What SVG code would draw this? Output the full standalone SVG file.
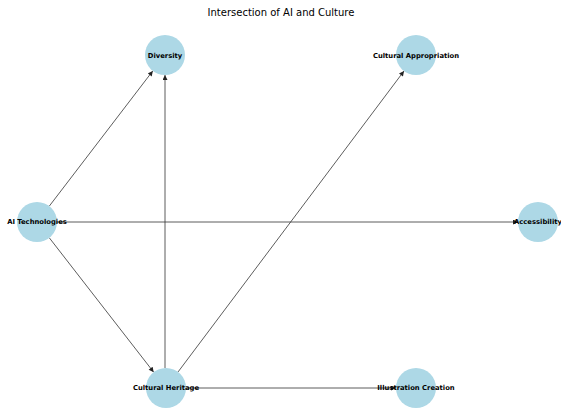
<svg xmlns="http://www.w3.org/2000/svg" width="561" height="412" viewBox="0 0 561 412">
<style>
.node{fill:#ADD8E6;}
.lbl{font-family:"DejaVu Sans",sans-serif;font-size:6.8px;font-weight:bold;fill:#000;text-anchor:middle;dominant-baseline:central;}
.edge{stroke:#333;stroke-width:0.8;fill:none;marker-end:url(#ah);}
.title{font-family:"DejaVu Sans",sans-serif;font-size:10px;fill:#000;text-anchor:middle;}
</style>
<defs>
<marker id="ah" viewBox="0 0 10 10" refX="10" refY="5" markerWidth="7" markerHeight="5" markerUnits="userSpaceOnUse" orient="auto">
<path d="M0,0 L10,5 L0,10 z" fill="#222"/>
</marker>
</defs>
<rect width="561" height="412" fill="#fff"/>
<text class="title" x="281" y="16">Intersection of AI and Culture</text>
<g id="connectors">
<line class="edge" x1="49.3" y1="206.1" x2="152.8" y2="70.9"/>
<line class="edge" x1="49.3" y1="237.8" x2="153.7" y2="372.2"/>
<line class="edge" x1="57" y1="222" x2="518" y2="222"/>
<line class="edge" x1="165" y1="368" x2="165" y2="75"/>
<line class="edge" x1="178" y1="372" x2="404" y2="71"/>
<line class="edge" x1="186" y1="388" x2="396" y2="388"/>
</g>
<g id="node-diversity"><circle class="node" cx="165" cy="55" r="20"/><text class="lbl" x="165" y="56">Diversity</text></g>
<g id="node-cultural-appropriation"><circle class="node" cx="416" cy="55" r="20"/><text class="lbl" x="416" y="56">Cultural Appropriation</text></g>
<g id="node-ai-technologies"><circle class="node" cx="37" cy="222" r="20"/><text class="lbl" x="37" y="222">AI Technologies</text></g>
<g id="node-accessibility"><circle class="node" cx="538" cy="222" r="20"/><text class="lbl" x="538" y="222">Accessibility</text></g>
<g id="node-cultural-heritage"><circle class="node" cx="166" cy="388" r="20"/><text class="lbl" x="166" y="388">Cultural Heritage</text></g>
<g id="node-illustration-creation"><circle class="node" cx="416" cy="388" r="20"/><text class="lbl" x="416" y="388">Illustration Creation</text></g>
</svg>
